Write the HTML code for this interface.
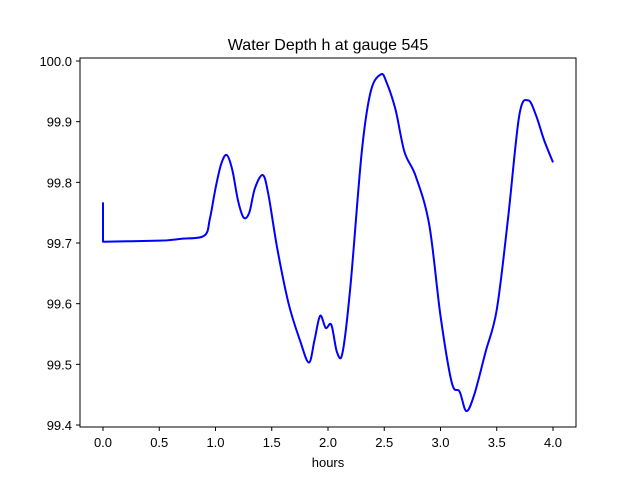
<!DOCTYPE html>
<html><head><meta charset="utf-8"><style>
body{margin:0;background:#fff}
svg{display:block;font-family:"Liberation Sans","DejaVu Sans",sans-serif}
</style></head><body>
<svg id="chart" width="640" height="480">
<rect x="0" y="0" width="640" height="480" fill="#fff"/>
<text x="328" y="50" font-size="16" text-anchor="middle">Water Depth h at gauge 545</text>
<text x="328" y="467" font-size="13" text-anchor="middle">hours</text>
<g id="plot"></g>
<rect x="80" y="58" width="496" height="369" fill="none" stroke="#000" stroke-width="1"/>
</svg>
<script>
const times=[0,0,0.5,0.6,0.7,0.9,0.95,1.0,1.05,1.1,1.15,1.2,1.25,1.3,1.35,1.42,1.47,1.55,1.65,1.75,1.83,1.88,1.93,1.98,2.03,2.08,2.13,2.2,2.3,2.38,2.47,2.52,2.6,2.68,2.78,2.9,3.0,3.1,3.17,3.23,3.3,3.4,3.5,3.6,3.7,3.78,3.85,3.92,4.0];
const depths=[99.767,99.702,99.704,99.705,99.707,99.712,99.74,99.79,99.83,99.845,99.82,99.77,99.742,99.75,99.79,99.812,99.78,99.69,99.6,99.54,99.503,99.54,99.58,99.56,99.565,99.52,99.52,99.63,99.85,99.95,99.978,99.965,99.92,99.85,99.81,99.73,99.58,99.47,99.455,99.423,99.45,99.52,99.59,99.74,99.91,99.935,99.91,99.87,99.833];
const xTicks=[0,0.5,1.0,1.5,2.0,2.5,3.0,3.5,4.0];
const yTicks=[99.4,99.5,99.6,99.7,99.8,99.9,100.0];
const NS="http://www.w3.org/2000/svg";
function xs(t){return 103+t*112.5;}
function ys(v){return 61+(100.0-v)*606.7;}
const g=document.getElementById('plot');
xTicks.forEach(t=>{
 const l=document.createElementNS(NS,'line');
 l.setAttribute('x1',xs(t));l.setAttribute('x2',xs(t));l.setAttribute('y1',427);l.setAttribute('y2',431);l.setAttribute('stroke','#000');
 
 
 g.appendChild(l);
 const tx=document.createElementNS(NS,'text');
 tx.setAttribute('x',xs(t));tx.setAttribute('y',447);tx.setAttribute('font-size','13');tx.setAttribute('text-anchor','middle');
 tx.textContent=t.toFixed(1);
 
 
 g.appendChild(tx);
});
yTicks.forEach(v=>{
 const l=document.createElementNS(NS,'line');
 l.setAttribute('x1',76);l.setAttribute('x2',80);l.setAttribute('y1',ys(v));l.setAttribute('y2',ys(v));l.setAttribute('stroke','#000');
 
 
 g.appendChild(l);
 const tx=document.createElementNS(NS,'text');
 tx.setAttribute('x',72);tx.setAttribute('y',ys(v)+5);tx.setAttribute('font-size','13');tx.setAttribute('text-anchor','end');
 tx.textContent=v.toFixed(1);
 
 
 g.appendChild(tx);
});
const pts=times.map((t,i)=>[xs(t),ys(depths[i])]);
let d='M'+pts[0][0]+','+pts[0][1]+' L'+pts[1][0]+','+pts[1][1];
for(let i=1;i<pts.length-1;i++){
 const p0=pts[Math.max(1,i-1)],p1=pts[i],p2=pts[i+1],p3=pts[Math.min(pts.length-1,i+2)];
 const c1x=p1[0]+(p2[0]-p0[0])/6,c1y=p1[1]+(p2[1]-p0[1])/6;
 const c2x=p2[0]-(p3[0]-p1[0])/6,c2y=p2[1]-(p3[1]-p1[1])/6;
 d+=' C'+c1x+','+c1y+' '+c2x+','+c2y+' '+p2[0]+','+p2[1];
}
const p=document.createElementNS(NS,'path');
p.setAttribute('d',d);
p.setAttribute('fill','none');p.setAttribute('stroke','#0000ff');p.setAttribute('stroke-width','2');p.setAttribute('stroke-linejoin','round');


g.appendChild(p);
</script>
</body></html>
